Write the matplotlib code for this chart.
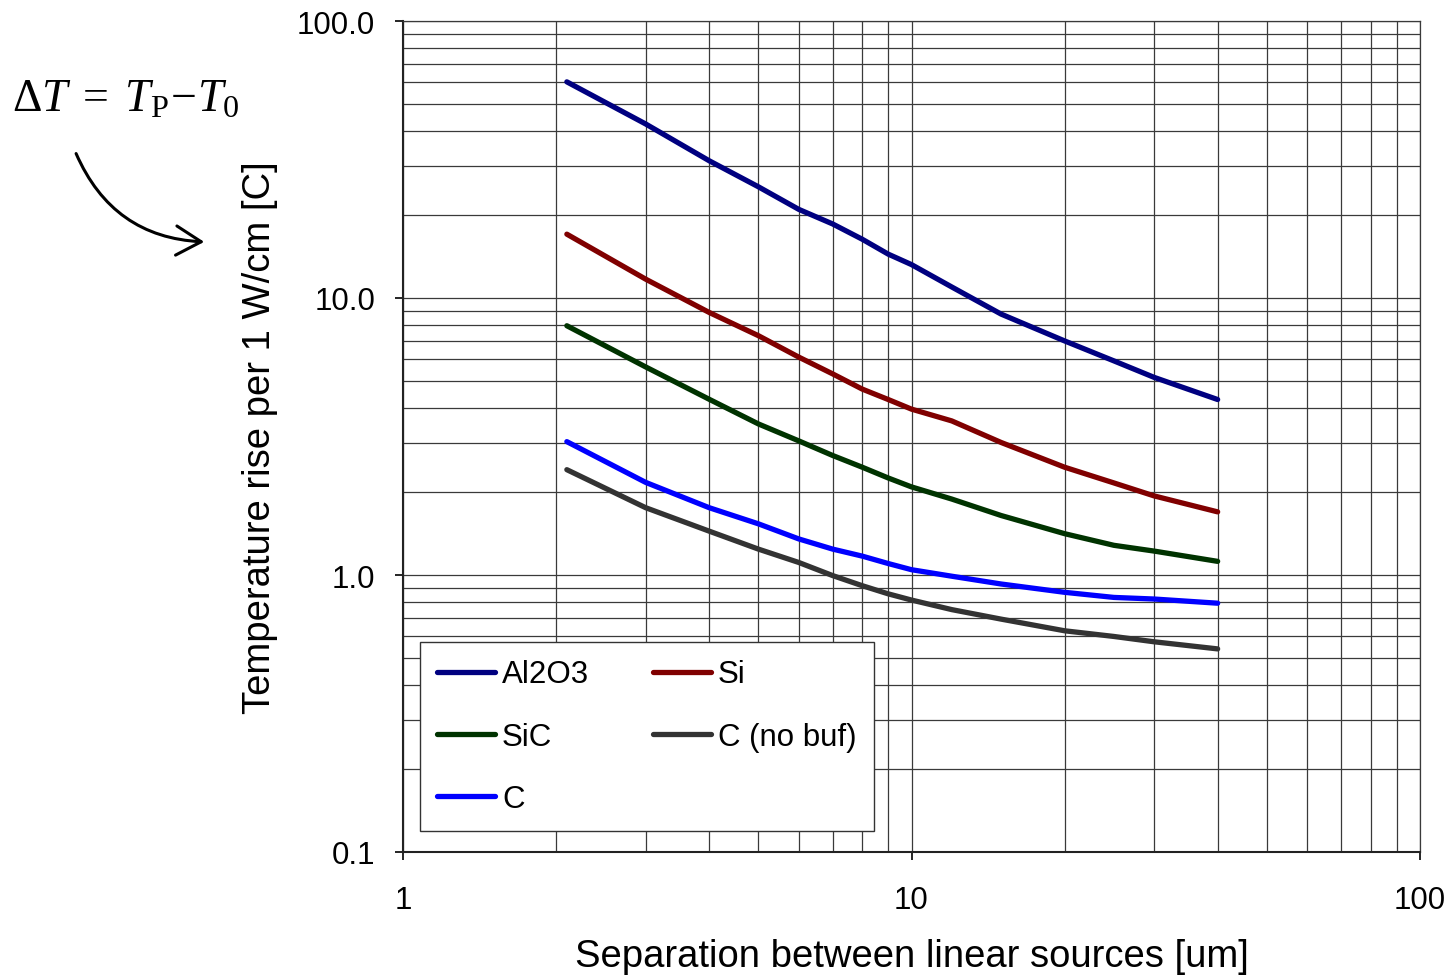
import matplotlib
matplotlib.use("Agg")
import matplotlib.pyplot as plt
from matplotlib.ticker import LogLocator, FuncFormatter, NullFormatter
from matplotlib.patches import FancyArrowPatch

x = [2.1, 3, 4, 5, 6, 7, 8, 9, 10, 12, 15, 20, 25, 30, 40]
al2o3 = [60.3, 42.5, 31.3, 25.2, 20.9, 18.5, 16.3, 14.4, 13.2, 10.96, 8.75, 7.0, 5.93, 5.17, 4.30]
si = [17.0, 11.7, 8.87, 7.31, 6.12, 5.32, 4.69, 4.3, 3.97, 3.6, 3.01, 2.45, 2.15, 1.93, 1.69]
sic = [7.94, 5.64, 4.31, 3.51, 3.05, 2.70, 2.45, 2.24, 2.08, 1.88, 1.64, 1.41, 1.28, 1.22, 1.12]
c = [3.03, 2.16, 1.75, 1.53, 1.35, 1.24, 1.17, 1.10, 1.045, 0.99, 0.928, 0.866, 0.83, 0.819, 0.791]
c_nobuf = [2.40, 1.75, 1.44, 1.24, 1.11, 0.995, 0.915, 0.855, 0.812, 0.75, 0.693, 0.629, 0.60, 0.574, 0.541]

names = ["Al2O3", "Si", "SiC", "C", "C (no buf)"]
series = [al2o3, si, sic, c, c_nobuf]
colors = ["#000080", "#800000", "#003300", "#0000FF", "#333333"]

plt.rcParams['font.family'] = ['Liberation Sans', 'DejaVu Sans']
plt.rcParams['mathtext.fontset'] = 'custom'
plt.rcParams['mathtext.rm'] = 'Liberation Serif'
plt.rcParams['mathtext.it'] = 'Liberation Serif:italic'
plt.rcParams['mathtext.bf'] = 'Liberation Serif:bold'

fig = plt.figure(figsize=(14.51, 9.78), dpi=100)
ax = fig.add_axes([403/1451, 1-853/978, (1420-403)/1451, (853-22)/978])

lines = {}
for n, s, col in zip(names, series, colors):
    ln, = ax.plot(x, s, color=col, lw=3.8, solid_capstyle='round', label=n, zorder=3)
    lines[n] = ln

ax.set_xscale('log')
ax.set_yscale('log')
ax.set_xlim(1, 100)
ax.set_ylim(0.1, 100)

ax.xaxis.set_major_locator(LogLocator(base=10, numticks=10))
ax.xaxis.set_minor_locator(LogLocator(base=10, subs=range(2, 10), numticks=20))
ax.yaxis.set_major_locator(LogLocator(base=10, numticks=10))
ax.yaxis.set_minor_locator(LogLocator(base=10, subs=range(2, 10), numticks=20))
ax.xaxis.set_major_formatter(FuncFormatter(lambda v, p: f"{v:g}"))
ax.yaxis.set_major_formatter(FuncFormatter(lambda v, p: f"{v:.1f}"))
ax.xaxis.set_minor_formatter(NullFormatter())
ax.yaxis.set_minor_formatter(NullFormatter())

ax.grid(True, which='both', color='#3a3a3a', lw=0.9)
ax.set_axisbelow(True)
for sp in ax.spines.values():
    sp.set_color('#3a3a3a')
    sp.set_linewidth(0.9)
ax.spines['left'].set_color('#222222')
ax.spines['bottom'].set_color('#222222')
ax.spines['left'].set_linewidth(1.5)
ax.spines['bottom'].set_linewidth(1.5)

ax.tick_params(which='major', direction='out', length=6, width=1.2, labelsize=22.5, colors='black')
ax.tick_params(axis='x', which='major', pad=18)
ax.tick_params(axis='y', which='major', pad=14)
ax.tick_params(which='minor', length=0)

ax.set_xlabel("Separation between linear sources [um]", fontsize=27.5, labelpad=16)
ax.set_ylabel("Temperature rise per 1 W/cm [C]", fontsize=27.5, labelpad=14)

order = ["Al2O3", "SiC", "C", "Si", "C (no buf)"]
leg = ax.legend([lines[n] for n in order], order, ncol=2, loc='lower left',
                bbox_to_anchor=(17/1017, 21/831), fontsize=22.5, frameon=True,
                fancybox=False, edgecolor='#333333', framealpha=1,
                handlelength=1.85, handletextpad=0.22, columnspacing=2.05,
                labelspacing=1.03, borderpad=0.55, borderaxespad=0)
leg.get_frame().set_linewidth(1.0)

fig.text(12/1451, 1-100/978,
         r"$\mathit{ΔT}\;=\;\mathit{T}_{\mathrm{P}}\!-\!\mathit{T}_{0}$",
         fontsize=33, va='center', ha='left')

arr = FancyArrowPatch((75/1451, 1-152/978), (207/1451, 1-243/978),
                      transform=fig.transFigure, connectionstyle="arc3,rad=0.32",
                      arrowstyle='->,head_length=12,head_width=7', lw=2.2, color='black',
                      mutation_scale=1.5)
fig.patches.append(arr)

fig.savefig("out.png", dpi=100)
